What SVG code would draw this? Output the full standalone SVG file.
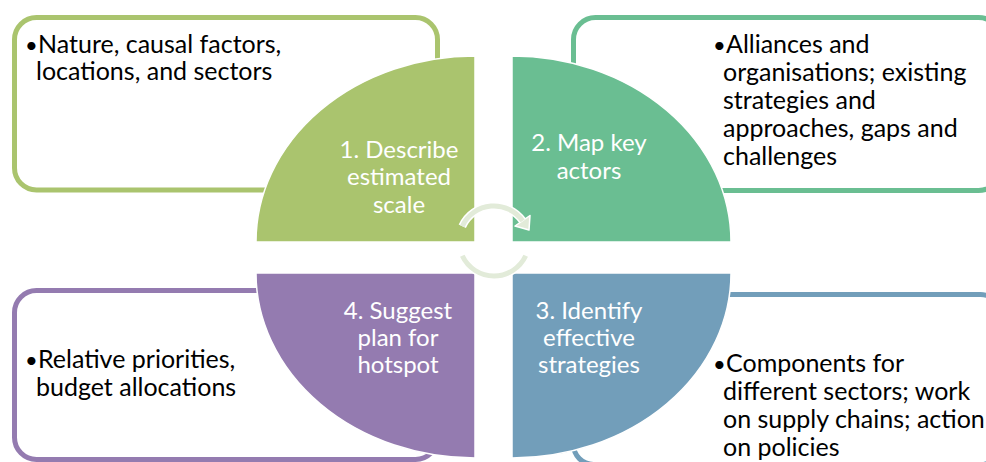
<svg xmlns="http://www.w3.org/2000/svg" width="986" height="462" viewBox="0 0 986 462">
<style>
.box{fill:#fff;stroke-width:5}
.q{stroke:#fff;stroke-width:1.5}
.bt{font-family:Lato,"Liberation Sans",sans-serif;font-size:25px;fill:#000}
.bl{font-family:Lato,"Liberation Sans",sans-serif;font-size:22px;fill:#000}
.st{font-family:Lato,"Liberation Sans",sans-serif;font-size:24px;fill:#fff;text-anchor:middle}
.ring{fill:none;stroke:#e2ebd9;stroke-width:5}
.ringw{fill:none;stroke:#fff;stroke-width:8}
</style>
<rect width="986" height="462" fill="#fff"/>
<g id="box1">
<rect class="box" x="14.5" y="17.5" width="423" height="172.5" rx="22" stroke="#aac46e"/>
<text class="bl" x="25" y="53">•</text>
<text class="bt"><tspan x="38" y="53">Nature, causal factors,</tspan><tspan x="36" y="80">locations, and sectors</tspan></text>
</g>
<g id="box2">
<rect class="box" x="573.5" y="17.5" width="427" height="173" rx="22" stroke="#6abe92"/>
<text class="bl" x="713" y="53">•</text>
<text class="bt"><tspan x="726" y="53">Alliances and</tspan><tspan x="723" y="81">organisations; existing</tspan><tspan x="723" y="109">strategies and</tspan><tspan x="723" y="137">approaches, gaps and</tspan><tspan x="723" y="165">challenges</tspan></text>
</g>
<g id="box3">
<rect class="box" x="573.5" y="294.5" width="427" height="170" rx="20" stroke="#729eba"/>
<text class="bl" x="713" y="372">•</text>
<text class="bt"><tspan x="726" y="372">Components for</tspan><tspan x="723" y="400">different sectors; work</tspan><tspan x="723" y="428">on supply chains; action</tspan><tspan x="723" y="456">on policies</tspan></text>
</g>
<g id="box4">
<rect class="box" x="14.5" y="290.5" width="423" height="169" rx="22" stroke="#947bb0"/>
<text class="bl" x="25" y="368">•</text>
<text class="bt"><tspan x="38" y="368">Relative priorities,</tspan><tspan x="36" y="396">budget allocations</tspan></text>
</g>
<g id="q1">
<path class="q" d="M475,242 L256,242 A219,186 0 0 1 475,56 Z" fill="#aac46e"/>
<text class="st"><tspan x="399" y="158">1. Describe</tspan><tspan x="399" y="185">estimated</tspan><tspan x="399" y="213">scale</tspan></text>
</g>
<g id="q2">
<path class="q" d="M512,242 L512,56 A219,186 0 0 1 731,242 Z" fill="#6abe92"/>
<text class="st"><tspan x="589" y="151">2. Map key</tspan><tspan x="589" y="179">actors</tspan></text>
</g>
<g id="q3">
<path class="q" d="M512,273 L731,273 A219,185 0 0 1 512,458 Z" fill="#729eba"/>
<text class="st"><tspan x="589" y="319">3. Identify</tspan><tspan x="589" y="346">effective</tspan><tspan x="589" y="373">strategies</tspan></text>
</g>
<g id="q4">
<path class="q" d="M475,273 L475,458 A219,185 0 0 1 256,273 Z" fill="#947bb0"/>
<text class="st"><tspan x="398" y="319">4. Suggest</tspan><tspan x="398" y="346">plan for</tspan><tspan x="398" y="373">hotspot</tspan></text>
</g>
<g id="connectors">
<path class="ringw" d="M462.3,226.2 A35,35 0 0 1 522.7,220.9"/>
<path class="ringw" d="M525.7,255.8 A35,35 0 0 1 462.3,255.8"/>
<polygon points="530,215.5 515,226 529,230" fill="#e2ebd9" stroke="#fff" stroke-width="1.5" stroke-linejoin="round"/>
<path class="ring" d="M462.3,226.2 A35,35 0 0 1 522.7,220.9"/>
<path class="ring" d="M525.7,255.8 A35,35 0 0 1 462.3,255.8"/>
</g>
</svg>
